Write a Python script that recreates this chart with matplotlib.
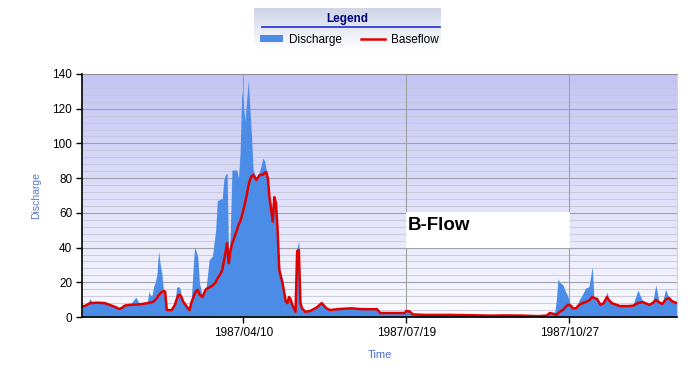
import numpy as np
import matplotlib
matplotlib.use("Agg")
import matplotlib.pyplot as plt
import matplotlib.dates as mdates
from matplotlib.lines import Line2D
from matplotlib.patches import Rectangle
from datetime import datetime

plt.rcParams['font.family'] = ['Liberation Sans', 'DejaVu Sans']

# day of year (0 = 1987-01-01), discharge and baseflow
days = [0, 2, 4, 5, 6, 8, 11, 14, 17, 19, 21, 23, 25, 26, 29, 31, 33, 35, 37, 40,
        41, 42, 43, 44, 45, 46, 47, 48, 49, 50, 51, 52, 55, 57, 58, 59, 60, 61, 62, 64,
        66, 67, 69, 70, 71, 72, 74, 75, 76, 78, 80, 82, 83, 85, 86, 87, 88, 89, 90, 91,
        92, 95, 96, 97, 98, 100, 101, 102, 103, 104, 105, 107, 109, 111, 112, 113, 114, 115, 117, 118,
        119, 120, 121, 123, 125, 126, 127, 128, 129, 131, 132, 133, 134, 135, 137, 140, 144, 147, 150, 152,
        158, 165, 170, 175, 181, 183, 190, 198, 199, 201, 203, 210, 225, 240, 250, 260, 270, 280, 285, 287,
        290, 291, 292, 293, 295, 296, 297, 298, 300, 301, 303, 305, 307, 309, 311, 313, 314, 316, 318, 320,
        322, 323, 325, 330, 335, 338, 341, 344, 348, 350, 352, 354, 356, 358, 360, 362, 365]
discharge = [6, 6.5, 9, 10.5, 9, 8.5, 8.3, 8, 7, 6.3, 5.5, 4.6, 5.5, 6.5, 7, 9, 11.5, 8, 7.5, 8,
             14.6, 12.5, 12.7, 17.8, 20, 25, 38, 30, 25, 15, 14, 4, 4, 7, 17, 17.5, 17, 12, 9, 6.3,
             4, 10, 40, 38, 35, 20, 11.5, 14, 16, 33, 35, 50, 67, 68, 68, 79, 82, 83, 31, 50,
             84.7, 84.7, 80, 95, 130.8, 113, 125, 136.5, 120, 104, 84.7, 80, 84, 91.6, 90, 85, 80, 69, 62, 69,
             66, 50, 30, 21, 10, 8, 11.5, 11, 7, 3, 40, 44, 10, 5, 3, 3.5, 5.5, 8, 5, 4,
             4.6, 5, 4.6, 4.5, 4.5, 2.3, 2.3, 2.3, 3.8, 3.8, 1.5, 1.2, 1.2, 1, 0.8, 0.9, 1, 0.5, 1, 2.5,
             3, 10, 22, 20, 18.5, 16, 14, 12, 6, 5, 5, 9.8, 13, 16.7, 17.5, 29, 12, 10.4, 7, 8,
             14.4, 11, 8, 7, 6.5, 7, 15.5, 9, 7, 8, 18.5, 9, 8, 16, 11, 10, 8]
baseflow = [6, 6.5, 7.5, 8, 8, 8.2, 8.2, 8, 7, 6.3, 5.5, 4.6, 5.5, 6.5, 7, 7, 7.2, 7.3, 7.5, 8,
            8.2, 8.3, 8.5, 9, 10, 11, 12.5, 13.5, 14.5, 15, 14.6, 4, 4, 7, 10, 12.5, 12.7, 11.5, 9, 6.3,
            4, 8, 13, 15, 15.6, 13, 11.5, 14, 16, 17, 18, 20, 22, 25, 27, 32, 37, 42.6, 31, 38,
            42, 50, 53, 55, 58, 65.6, 70, 75, 79, 81, 81.8, 79, 81.8, 82, 83, 83.5, 80, 69, 55, 69,
            65.6, 50, 27, 19.6, 9, 8, 11.5, 10, 7, 3, 38, 38.6, 8, 5, 3, 3.5, 5.5, 8, 5, 4,
            4.6, 5, 4.6, 4.5, 4.5, 2.3, 2.3, 2.3, 3.5, 3.2, 1.5, 1.2, 1.2, 1, 0.8, 0.9, 0.8, 0.5, 0.8, 2.3,
            1.5, 1.2, 2, 3, 4, 5, 6, 7, 6.5, 5, 5, 7, 8, 8.6, 9.5, 11.5, 11, 10.4, 7, 8,
            11.5, 10, 8, 6.3, 6.3, 6.5, 8, 8.6, 7, 8, 9.8, 8.5, 7.5, 10, 11, 9, 8]
tick_dates = [datetime(1987, 4, 10), datetime(1987, 7, 19), datetime(1987, 10, 27)]

start = mdates.date2num(datetime(1987, 1, 1))
x = start + np.array(days)

fig = plt.figure(figsize=(6.95, 3.75), dpi=100)
ax = fig.add_axes([82 / 695, 1 - 317 / 375, 595 / 695, 243 / 375])

# lavender gradient background of the plot area
grad = np.linspace(0, 1, 256)[:, None]
top = np.array([196, 196, 245]) / 255
bot = np.array([250, 250, 255]) / 255
img = top + (bot - top) * grad[..., None]
ax.imshow(img, extent=[0, 1, 0, 1], transform=ax.transAxes, aspect='auto', zorder=0)

# grid
for v in np.arange(4, 140, 4):
    major = v % 20 == 0
    ax.axhline(v, color='#a0a0a8' if major else '#c4c4d8', lw=0.8 if major else 0.6, zorder=1)
for d in tick_dates:
    ax.axvline(mdates.date2num(d), color='#a0a0a0', lw=0.8, zorder=1)

fill = ax.fill_between(x, 0, discharge, color='#4a8ce6', lw=0, zorder=2, label='Discharge')
line, = ax.plot(x, baseflow, color='#e00000', lw=1.8, zorder=3, label='Baseflow')

ax.set_xlim(start, start + 365)
ax.set_ylim(0, 140)
ax.set_yticks(np.arange(0, 141, 20))
ax.set_xticks([mdates.date2num(d) for d in tick_dates])
ax.xaxis.set_major_formatter(mdates.DateFormatter('%Y/%m/%d'))
ax.tick_params(labelsize=8.5, length=4, width=1, color='black', pad=3)

for s in ['left', 'bottom']:
    ax.spines[s].set_linewidth(1.2)
    ax.spines[s].set_zorder(5)
ax.spines['top'].set_color('#909090')
ax.spines['top'].set_linewidth(0.8)
ax.spines['right'].set_color('#d0d0e8')

ax.set_ylabel('Discharge', color='#5a78c8', fontsize=7.5, labelpad=8)
ax.set_xlabel('Time', color='#4a6cd0', fontsize=8, labelpad=8)

# B-Flow box
ax.add_patch(Rectangle((0.5445, 0.284), 0.2756, 0.148, transform=ax.transAxes,
                       facecolor='white', edgecolor='none', zorder=4))
ax.text(0.548, 0.375, 'B-Flow', transform=ax.transAxes, fontsize=13.5,
        fontweight='bold', va='center', ha='left', zorder=5)

# legend panel at the top
lax = fig.add_axes([254 / 695, 1 - 50 / 375, 187 / 695, 42 / 375])
lg = np.linspace(0, 1, 64)[:, None]
ltop = np.array([205, 212, 230]) / 255
lbot = np.array([255, 255, 255]) / 255
lax.imshow(ltop + (lbot - ltop) * lg[..., None], extent=[0, 1, 0, 1], aspect='auto')
lax.axis('off')
fig.add_artist(Line2D([262 / 695, 440 / 695], [1 - 27 / 375, 1 - 27 / 375],
                      color='#2030d0', lw=1.2))
fig.text(347 / 695, 1 - 19 / 375, 'Legend', ha='center', va='center',
         fontsize=8.5, fontweight='bold', color='#000080')
leg = fig.legend(handles=[fill, line], loc='center', ncol=2, frameon=False,
                 bbox_to_anchor=(349 / 695, 1 - 40 / 375), fontsize=8.5,
                 handlelength=2.0, handleheight=0.5, columnspacing=1.6, handletextpad=0.5)

fig.savefig('out.png', dpi=100)
